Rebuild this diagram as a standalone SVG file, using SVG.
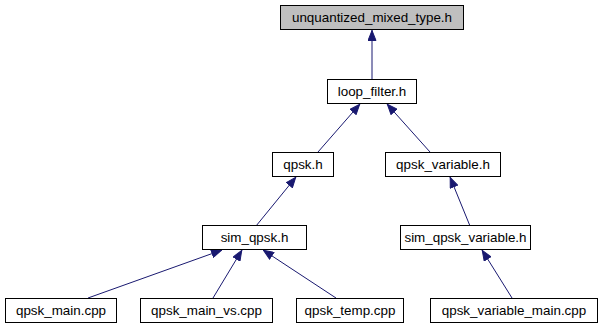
<svg xmlns="http://www.w3.org/2000/svg" width="602" height="329" viewBox="0 0 602 329">
  <style>
    .node rect { fill: #ffffff; stroke: #000000; stroke-width: 1; }
    .node.root rect { fill: #bfbfbf; }
    .node text { font-family: "Liberation Sans", Arial, sans-serif; font-size: 13.4px; fill: #000000; text-anchor: middle; }
    .edge line { stroke: #191970; stroke-width: 1; }
  </style>
  <defs>
    <marker id="arrow" viewBox="0 0 11 9" refX="11" refY="4.5" markerWidth="11" markerHeight="9" markerUnits="userSpaceOnUse" orient="auto">
      <path d="M0.5,0.5 L10.5,4.5 L0.5,8.5 Z" fill="#191970" stroke="#191970"/>
    </marker>
  </defs>
  <rect width="602" height="329" fill="#ffffff"/>

  <!-- include relations: each line points from the including file up to the included header -->
  <g id="edges" class="edge">
    <line x1="372" y1="80" x2="372" y2="30" marker-end="url(#arrow)"/>
    <line x1="318" y1="152" x2="360" y2="104" marker-end="url(#arrow)"/>
    <line x1="430" y1="152" x2="387" y2="104" marker-end="url(#arrow)"/>
    <line x1="256" y1="226" x2="296" y2="177" marker-end="url(#arrow)"/>
    <line x1="470" y1="226" x2="450" y2="177" marker-end="url(#arrow)"/>
    <line x1="88" y1="298" x2="222" y2="250" marker-end="url(#arrow)"/>
    <line x1="213" y1="298" x2="242" y2="250" marker-end="url(#arrow)"/>
    <line x1="336" y1="298" x2="263" y2="250" marker-end="url(#arrow)"/>
    <line x1="512" y1="298" x2="482" y2="250" marker-end="url(#arrow)"/>
  </g>

  <g id="unquantized_mixed_type_h" class="node root">
    <rect x="280.5" y="5.5" width="183" height="24"/>
    <text x="372" y="22">unquantized_mixed_type.h</text>
  </g>
  <g id="loop_filter_h" class="node">
    <rect x="327.5" y="79.5" width="89" height="24"/>
    <text x="372" y="96">loop_filter.h</text>
  </g>
  <g id="qpsk_h" class="node">
    <rect x="272.5" y="152.5" width="61" height="24"/>
    <text x="303" y="169">qpsk.h</text>
  </g>
  <g id="qpsk_variable_h" class="node">
    <rect x="385.5" y="152.5" width="115" height="24"/>
    <text x="443" y="169">qpsk_variable.h</text>
  </g>
  <g id="sim_qpsk_h" class="node">
    <rect x="202.5" y="225.5" width="104" height="24"/>
    <text x="254.5" y="242">sim_qpsk.h</text>
  </g>
  <g id="sim_qpsk_variable_h" class="node">
    <rect x="400.5" y="225.5" width="130" height="24"/>
    <text x="465.5" y="242">sim_qpsk_variable.h</text>
  </g>
  <g id="qpsk_main_cpp" class="node">
    <rect x="5.5" y="298.5" width="111" height="24"/>
    <text x="61" y="315">qpsk_main.cpp</text>
  </g>
  <g id="qpsk_main_vs_cpp" class="node">
    <rect x="140.5" y="298.5" width="132" height="24"/>
    <text x="206.5" y="315">qpsk_main_vs.cpp</text>
  </g>
  <g id="qpsk_temp_cpp" class="node">
    <rect x="296.5" y="298.5" width="107" height="24"/>
    <text x="350" y="315">qpsk_temp.cpp</text>
  </g>
  <g id="qpsk_variable_main_cpp" class="node">
    <rect x="430.5" y="298.5" width="167" height="24"/>
    <text x="514" y="315">qpsk_variable_main.cpp</text>
  </g>
</svg>
